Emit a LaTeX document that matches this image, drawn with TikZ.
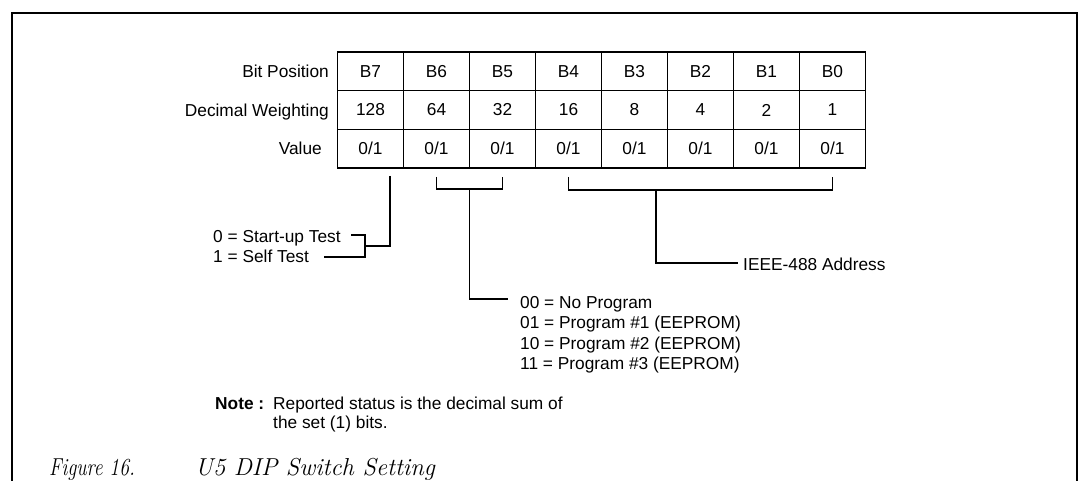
\documentclass[tikz,border=0pt]{standalone}
\usepackage{fontspec}
\setsansfont{Liberation Sans}
\begin{document}
\begin{tikzpicture}[x=1pt,y=-1pt,
  txt/.style={font=\sffamily\fontsize{17.3}{20}\selectfont, inner sep=0pt},
  cell/.style={draw, line width=1.5pt, minimum width=66pt, minimum height=38.67pt,
    inner sep=0pt, font=\sffamily\fontsize{17.3}{20}\selectfont},
  wire/.style={line width=1.5pt},
  frameline/.style={line width=2.2pt},
  captxt/.style={font=\itshape\fontsize{24.5}{28}\selectfont, inner sep=0pt, anchor=base west}
]
\useasboundingbox (0,0) rectangle (1083,481);
% outer frame (open at the bottom)
\coordinate (fbl) at (12,481);
\coordinate (ftl) at (12,13);
\coordinate (ftr) at (1077,13);
\coordinate (fbr) at (1077,481);
\draw[frameline] (fbl) -- (ftl) -- (ftr) -- (fbr);

% row labels
\node[txt, anchor=base east] (lbit) at (329,77.7) {Bit Position};
\node[txt, anchor=base east] (ldec) at (329,116.2) {Decimal Weighting};
\node[txt, anchor=base east] (lval) at (322,154.9) {Value};

% table cells
\foreach \t [count=\i from 0] in {B7,B6,B5,B4,B3,B2,B1,B0}
  \node[cell] (p\i) at ({370.5+66*\i},71.33) {\t};
\foreach \t [count=\i from 0] in {128,64,32,16,8,4,2,1}
  \node[cell] (d\i) at ({370.5+66*\i},110) {\t};
\foreach \i in {0,...,7}
  \node[cell] (v\i) at ({370.5+66*\i},148.67) {0/1};

% B7 bracket
\node[txt, anchor=base west] (t0) at (213,242) {0 = Start-up Test};
\node[txt, anchor=base west] (t1) at (213,262) {1 = Self Test};
\coordinate (a1) at (390,176);
\coordinate (a2) at (390,246);
\coordinate (a3) at (365,246);
\draw[wire] (a1) -- (a2) -- (a3);
\coordinate (h1) at (351,235);
\coordinate (h2) at (365,235);
\coordinate (h3) at (365,257);
\coordinate (h4) at (324,257);
\draw[wire] (h1) -- (h2) -- (h3) -- (h4);

% B6-B5 bracket
\coordinate (b1) at (436.5,177);
\coordinate (b2) at (436.5,189);
\coordinate (b3) at (502.5,189);
\coordinate (b4) at (502.5,177);
\draw[wire] (b1) -- (b2) -- (b3) -- (b4);
\coordinate (bs) at (469.5,189);
\coordinate (bc) at (469.5,299);
\coordinate (be) at (508,299);
\draw[wire] (bs) -- (bc) -- (be);
\node[txt, anchor=base west] (p00) at (520,308) {00 = No Program};
\node[txt, anchor=base west] (p01) at (520,328.5) {01 = Program \#1 (EEPROM)};
\node[txt, anchor=base west] (p10) at (520,349) {10 = Program \#2 (EEPROM)};
\node[txt, anchor=base west] (p11) at (520,369.5) {11 = Program \#3 (EEPROM)};

% B4-B0 bracket
\coordinate (c1) at (568.5,177);
\coordinate (c2) at (568.5,190);
\coordinate (c3) at (832.5,190);
\coordinate (c4) at (832.5,177);
\draw[wire] (c1) -- (c2) -- (c3) -- (c4);
\coordinate (cs) at (656,190);
\coordinate (cc) at (656,263);
\coordinate (ce) at (738,263);
\draw[wire] (cs) -- (cc) -- (ce);
\node[txt, anchor=base west] (ieee) at (743,270) {IEEE-488 Address};

% note
\node[txt, anchor=base west, font=\sffamily\bfseries\fontsize{17.3}{20}\selectfont] (note) at (215,409) {Note :};
\node[txt, anchor=base west] (n1) at (273,409) {Reported status is the decimal sum of};
\node[txt, anchor=base west] (n2) at (273,428) {the set (1) bits.};

% caption
\node[captxt] (fig) at (49,475) {\scalebox{0.8}[1]{Figure 16.}};
\node[captxt] (title) at (195,475) {U5 DIP Switch Setting};
\end{tikzpicture}
\end{document}
